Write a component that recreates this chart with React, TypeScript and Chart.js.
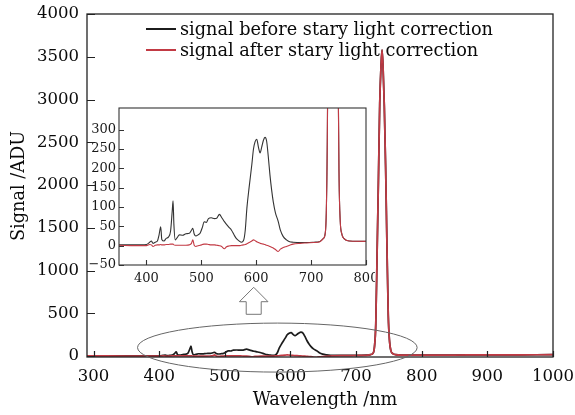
import React, { useEffect, useRef } from 'react';
import { Chart, registerables } from 'chart.js';

Chart.register(...registerables);

// ---- data ----
const wavelengths = [
  290, 320, 350, 380, 400, 406, 409, 412, 416, 420, 423, 426, 428, 432, 436, 440, 444, 447, 448.5, 450,
  452.5, 456, 460, 466, 472, 478, 482, 484.5, 487, 490, 494, 498, 502, 505, 509, 513, 518, 524, 528, 533,
  537, 542, 546, 550, 555, 560, 564, 569, 573, 577, 580, 583, 587, 592, 595, 598, 601, 604, 607, 610,
  613, 616, 619, 622, 625, 628, 631, 635, 640, 644, 649, 655, 661, 667, 680, 692, 705, 716, 722, 726,
  728, 730, 732, 734, 736, 738, 739.5, 741, 743, 745, 747, 749, 751, 753, 756, 760, 770, 800, 850, 900,
  950, 1000,
];
const beforeCorrection = [
  4, 3, 2, 2, 3, 9, 12, 6, 9, 12, 28, 49, 16, 12, 19, 22, 38, 90, 116, 55,
  15, 21, 28, 27, 31, 32, 40, 45, 30, 25, 28, 33, 48, 62, 60, 70, 72, 70, 71, 81,
  73, 62, 55, 48, 40, 27, 18, 12, 9, 14, 40, 97, 150, 210, 250, 269, 275, 255, 240, 255,
  272, 280, 270, 230, 183, 145, 114, 85, 63, 40, 24, 15, 10, 9, 8, 8, 9, 11, 18, 35,
  110, 380, 1200, 2050, 2950, 3400, 3580, 3400, 2920, 2200, 1300, 480, 170, 65, 30, 18, 12, 11, 13, 15,
  16, 17,
];
const afterCorrection = [
  3, 2, 1, 0, 0, 3, 2, -2, 1, 2, 2, 3, 2, 2, 3, 3, 4, 4, 4, 2,
  1, 1, 1, 1, 1, 2, 6, 15, 1, -2, 0, 1, 3, 4, 4, 3, 2, 2, 1, 0,
  -2, -8, -3, -1, 0, 0, 0, 0, 1, 2, 3, 5, 8, 12, 15, 13, 10, 8, 6, 5,
  4, 3, 1, 0, -2, -4, -6, -10, -15, -9, -5, -2, 1, 4, 6, 7, 8, 10, 18, 35,
  110, 380, 1200, 2050, 2950, 3400, 3580, 3400, 2920, 2200, 1300, 480, 170, 65, 30, 18, 12, 11, 13, 15,
  16, 17,
];
const mainXTicks = [300, 400, 500, 600, 700, 800, 900, 1000];
const mainYTicks = [0, 500, 1000, 1500, 2000, 2500, 3000, 3500, 4000];
const insetXTicks = [400, 500, 600, 700, 800];
const insetYTicks = [-50, 0, 50, 100, 150, 200, 250, 300];
const legendLabels = ['signal before stary light correction', 'signal after stary light correction'];
const xTitle = 'Wavelength /nm';
const yTitle = 'Signal /ADU';

const FONT = '"DejaVu Serif", serif';
const RED = '#c23a44';
const BLACK = '#1c1c1c';
const TEXT = '#0a0a0a';

const pts = (vals: number[]) => wavelengths.map((w, i) => ({ x: w, y: vals[i] }));
const plain = (v: any) => String(v).replace('-', '\u2212');

const mainDecor = {
  id: 'mainDecor',
  afterDraw(chart: any) {
    const { ctx, chartArea: a, scales } = chart;
    const xs = scales.x;
    const ys = scales.y;
    ctx.save();
    // frame
    ctx.strokeStyle = '#222';
    ctx.lineWidth = 1.3;
    ctx.strokeRect(a.left, a.top, a.right - a.left, a.bottom - a.top);
    // inward ticks
    ctx.beginPath();
    mainXTicks.forEach((v) => {
      const px = Math.round(xs.getPixelForValue(v)) + 0.5;
      ctx.moveTo(px, a.bottom);
      ctx.lineTo(px, a.bottom - 6);
    });
    mainYTicks.forEach((v) => {
      const py = Math.round(ys.getPixelForValue(v)) + 0.5;
      ctx.moveTo(a.left, py);
      ctx.lineTo(a.left + 8, py);
    });
    ctx.lineWidth = 1.2;
    ctx.stroke();

    // legend
    ctx.font = '17.7px ' + FONT;
    ctx.textBaseline = 'middle';
    ctx.textAlign = 'left';
    const rows = [
      { label: legendLabels[0], color: BLACK, y: 29 },
      { label: legendLabels[1], color: RED, y: 50 },
    ];
    rows.forEach((r) => {
      ctx.strokeStyle = r.color;
      ctx.lineWidth = 2;
      ctx.beginPath();
      ctx.moveTo(146, r.y);
      ctx.lineTo(176, r.y);
      ctx.stroke();
      ctx.fillStyle = TEXT;
      ctx.fillText(r.label, 180, r.y + 1);
    });

    // axis titles
    ctx.fillStyle = TEXT;
    ctx.textAlign = 'center';
    ctx.fillText(xTitle, 325, 400);
    ctx.save();
    ctx.translate(19, 186);
    ctx.rotate(-Math.PI / 2);
    ctx.fillText(yTitle, 0, 0);
    ctx.restore();

    // ellipse around the low region
    const l = xs.getPixelForValue(367);
    const r = xs.getPixelForValue(793);
    ctx.strokeStyle = '#666';
    ctx.lineWidth = 1;
    ctx.beginPath();
    ctx.ellipse((l + r) / 2, ys.getPixelForValue(100), (r - l) / 2, 24.5, 0, 0, Math.PI * 2);
    ctx.stroke();

    // hollow arrow
    const cx = xs.getPixelForValue(544);
    ctx.beginPath();
    ctx.moveTo(cx, 287.3);
    ctx.lineTo(cx + 14.3, 301.7);
    ctx.lineTo(cx + 7.5, 301.7);
    ctx.lineTo(cx + 7.5, 314.3);
    ctx.lineTo(cx - 7.5, 314.3);
    ctx.lineTo(cx - 7.5, 301.7);
    ctx.lineTo(cx - 14.3, 301.7);
    ctx.closePath();
    ctx.fillStyle = '#fff';
    ctx.fill();
    ctx.strokeStyle = '#777';
    ctx.stroke();
    ctx.restore();
  },
};

const insetDecor = {
  id: 'insetDecor',
  afterDraw(chart: any) {
    const { ctx, chartArea: a, scales } = chart;
    ctx.save();
    ctx.strokeStyle = '#333';
    ctx.lineWidth = 1.1;
    ctx.strokeRect(a.left, a.top, a.right - a.left, a.bottom - a.top);
    ctx.beginPath();
    insetXTicks.forEach((v) => {
      const px = Math.round(scales.x.getPixelForValue(v)) + 0.5;
      ctx.moveTo(px, a.bottom);
      ctx.lineTo(px, a.bottom - 5);
    });
    insetYTicks.forEach((v) => {
      const py = Math.round(scales.y.getPixelForValue(v)) + 0.5;
      ctx.moveTo(a.left, py);
      ctx.lineTo(a.left + 5, py);
    });
    ctx.stroke();
    ctx.restore();
  },
};

const whiteBg = {
  id: 'whiteBg',
  beforeDraw(chart: any) {
    const { ctx, chartArea: a } = chart;
    ctx.save();
    ctx.fillStyle = '#fff';
    ctx.fillRect(a.left, a.top, a.right - a.left, a.bottom - a.top);
    ctx.restore();
  },
};

export default function App() {
  const mainRef = useRef<HTMLCanvasElement>(null);
  const insetRef = useRef<HTMLCanvasElement>(null);

  useEffect(() => {
    const main = new Chart(mainRef.current as HTMLCanvasElement, {
      type: 'line',
      data: {
        datasets: [
          {
            label: legendLabels[1],
            data: pts(afterCorrection),
            borderColor: RED,
            borderWidth: 1.7,
            pointRadius: 0,
            order: 0,
            cubicInterpolationMode: 'monotone',
          },
          {
            label: legendLabels[0],
            data: pts(beforeCorrection),
            borderColor: BLACK,
            borderWidth: 1.7,
            pointRadius: 0,
            order: 1,
            cubicInterpolationMode: 'monotone',
          },
        ],
      },
      options: {
        responsive: false,
        animation: false,
        events: [],
        layout: { padding: { left: 0, top: 14, right: 22, bottom: 0 } },
        plugins: { legend: { display: false }, tooltip: { enabled: false } },
        scales: {
          x: {
            type: 'linear',
            min: 290,
            max: 1000,
            afterBuildTicks: (s: any) => {
              s.ticks = mainXTicks.map((v) => ({ value: v }));
            },
            afterFit: (s: any) => {
              s.height = 58;
              s.paddingLeft = 0;
              s.paddingRight = 0;
            },
            grid: { display: false, drawTicks: false },
            border: { display: false },
            ticks: {
              font: { family: FONT, size: 16.5 },
              color: TEXT,
              padding: 10,
              maxRotation: 0,
              autoSkip: false,
              callback: (v: any) => plain(v),
            },
          },
          y: {
            type: 'linear',
            min: -10,
            max: 4000,
            afterBuildTicks: (s: any) => {
              s.ticks = mainYTicks.map((v) => ({ value: v }));
            },
            afterFit: (s: any) => {
              s.width = 87;
              s.paddingTop = 0;
              s.paddingBottom = 0;
            },
            grid: { display: false, drawTicks: false },
            border: { display: false },
            ticks: {
              font: { family: FONT, size: 16.5 },
              color: TEXT,
              padding: 8,
              autoSkip: false,
              callback: (v: any) => plain(v),
            },
          },
        },
      },
      plugins: [mainDecor],
    } as any);

    const inset = new Chart(insetRef.current as HTMLCanvasElement, {
      type: 'line',
      data: {
        datasets: [
          {
            label: legendLabels[1],
            data: pts(afterCorrection),
            borderColor: RED,
            borderWidth: 1.1,
            pointRadius: 0,
            order: 0,
            cubicInterpolationMode: 'monotone',
          },
          {
            label: legendLabels[0],
            data: pts(beforeCorrection),
            borderColor: '#333',
            borderWidth: 1.1,
            pointRadius: 0,
            order: 1,
            cubicInterpolationMode: 'monotone',
          },
        ],
      },
      options: {
        responsive: false,
        animation: false,
        events: [],
        layout: { padding: { left: 0, top: 8, right: 9, bottom: 0 } },
        plugins: { legend: { display: false }, tooltip: { enabled: false } },
        scales: {
          x: {
            type: 'linear',
            min: 350,
            max: 800,
            afterBuildTicks: (s: any) => {
              s.ticks = insetXTicks.map((v) => ({ value: v }));
            },
            afterFit: (s: any) => {
              s.height = 25;
              s.paddingLeft = 0;
              s.paddingRight = 0;
            },
            grid: { display: false, drawTicks: false },
            border: { display: false },
            ticks: {
              font: { family: FONT, size: 13 },
              color: '#1a1a1a',
              padding: 6,
              maxRotation: 0,
              autoSkip: false,
              callback: (v: any) => plain(v),
            },
          },
          y: {
            type: 'linear',
            min: -50,
            max: 356,
            afterBuildTicks: (s: any) => {
              s.ticks = insetYTicks.map((v) => ({ value: v }));
            },
            afterFit: (s: any) => {
              s.width = 49;
              s.paddingTop = 0;
              s.paddingBottom = 0;
            },
            grid: { display: false, drawTicks: false },
            border: { display: false },
            ticks: {
              font: { family: FONT, size: 13 },
              color: '#1a1a1a',
              padding: 3,
              autoSkip: false,
              callback: (v: any) => plain(v),
            },
          },
        },
      },
      plugins: [whiteBg, insetDecor],
    } as any);

    return () => {
      main.destroy();
      inset.destroy();
    };
  }, []);

  return (
    <div style={{ position: 'fixed', left: 0, top: 0, width: 575, height: 415, background: '#fff' }}>
      <canvas ref={mainRef} width={575} height={415} style={{ position: 'absolute', left: 0, top: 0, width: 575, height: 415 }} />
      <canvas ref={insetRef} width={305} height={190} style={{ position: 'absolute', left: 70, top: 100, width: 305, height: 190 }} />
    </div>
  );
}
